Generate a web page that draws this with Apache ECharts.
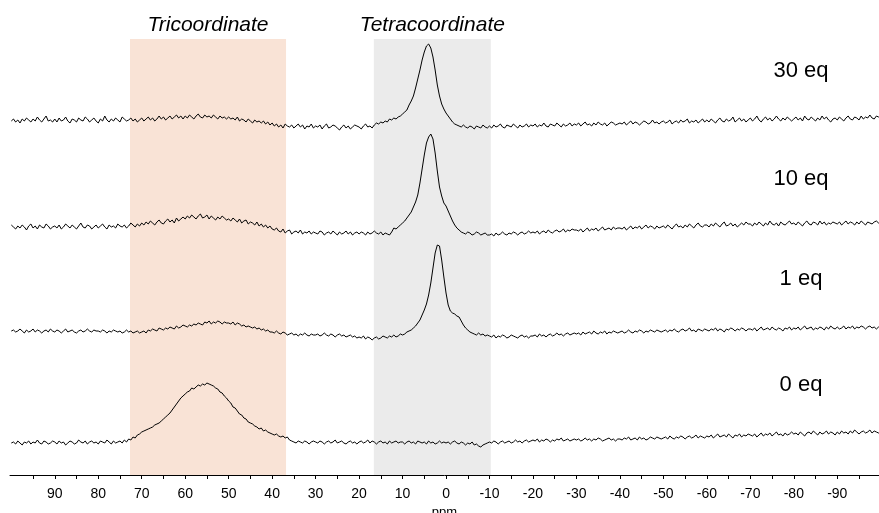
<!DOCTYPE html>
<html>
<head>
<meta charset="utf-8">
<script src="https://cdn.jsdelivr.net/npm/echarts@6/dist/echarts.min.js"></script>
<style>html,body{margin:0;padding:0;background:#fff;overflow:hidden}#c{width:879px;height:513px}</style>
</head>
<body>
<div id="c"></div>
<script>
// Chemical shift grid (ppm), 0.5 ppm steps from 100 to -100
const ppmStart = 100, ppmStep = 0.5;

const labels = ['30 eq', '10 eq', '1 eq', '0 eq'];

// Intensities (arbitrary units), one row = 10 ppm (100 -> -100)
const eq30 = [
 4,6,3,5,2,6,4,7,5,3,6,4,8,5,3,6,9,4,5,3,
 6,3,7,4,5,8,4,2,6,5,3,7,5,4,8,6,3,5,7,4,
 2,6,4,9,5,3,6,4,7,5,3,8,6,4,5,7,4,6,3,5,
 7,4,6,8,5,7,4,6,9,6,8,5,7,9,6,8,10,7,9,6,
 9,7,10,8,6,9,11,8,7,10,8,9,7,10,8,6,9,7,8,6,
 8,6,7,5,8,4,6,5,3,6,4,2,5,3,4,2,4,1,3,0,
 2,-1,1,-2,0,-3,1,-1,-2,0,-3,-1,1,-2,0,-4,-1,-2,1,-3,
 -1,-2,0,-4,-1,1,-3,-2,0,-1,-3,-5,-2,0,-3,-1,-4,-2,0,-1,
 -2,-4,-1,1,-2,-1,-3,0,2,1,3,2,4,3,6,5,7,6,8,9,
 11,13,15,20,24,29,37,46,55,65,73,79,81,77,68,55,40,29,21,16,
 12,9,6,3,1,0,-1,-2,0,-2,-3,-1,-2,-4,-1,-2,-3,0,-2,-3,
 -1,-3,0,-2,-1,1,-2,-3,0,-1,-2,1,-1,-3,0,-2,-1,1,-2,0,
 -1,1,-2,0,-1,2,-1,-2,1,0,-1,2,0,-2,1,-1,0,2,-1,1,
 0,2,-1,1,3,0,1,-1,2,0,3,1,0,2,-1,1,3,2,0,1,
 2,1,3,0,2,4,1,3,2,0,2,4,3,1,2,5,2,3,1,3,
 4,2,3,5,1,3,4,2,5,3,4,6,2,4,3,5,2,4,6,3,
 5,3,6,4,2,5,7,4,3,6,4,5,8,3,5,7,4,6,3,5,
 7,4,6,9,5,3,6,8,5,7,4,6,9,6,4,7,5,8,6,4,
 6,8,5,7,4,9,6,5,8,6,4,7,5,9,6,8,5,3,6,7,
 5,8,6,4,7,9,6,5,8,7,5,9,6,8,7,10,7,6,9,8,
 7
];
const eq10 = [
 6,4,2,5,3,6,4,1,5,7,3,5,2,6,4,3,7,5,2,4,
 5,3,6,2,4,7,5,3,6,4,2,5,8,4,3,6,5,2,4,6,
 3,5,7,4,2,6,4,5,3,7,5,4,6,3,5,8,6,4,7,5,
 8,6,9,7,10,8,6,9,11,8,7,10,12,9,11,8,13,10,12,14,
 12,15,13,16,14,12,15,17,13,14,16,12,15,13,11,14,12,15,13,11,
 12,10,13,11,9,12,8,10,11,7,9,8,6,9,5,7,4,6,3,5,
 2,1,3,0,-1,2,-2,0,1,-3,-1,0,-2,1,-3,-1,-2,0,-3,-1,
 -2,-3,0,-1,-4,-2,-1,-3,0,-2,-4,-1,-3,-2,0,-3,-1,-4,-2,-1,
 -3,-1,-2,-4,-1,-3,-2,0,-2,-3,-1,-4,-2,-3,-4,-1,3,2,4,6,
 8,10,13,16,19,24,29,36,48,62,76,88,94,97,92,78,60,44,35,28,
 25,20,15,10,6,3,1,-1,-2,-3,-1,-2,-4,-3,-1,-2,-4,-3,-2,-4,
 -4,-3,-5,-2,-4,-3,-1,-3,-4,-2,-3,-1,-2,-4,-2,-1,-3,-2,0,-2,
 -1,-2,0,-3,-1,0,-2,1,-1,-2,0,1,-1,0,2,-1,1,0,2,1,
 1,0,2,-1,1,3,0,2,1,3,0,2,4,1,2,3,1,4,2,3,
 3,2,4,1,3,5,2,4,3,5,2,4,6,3,5,4,2,5,3,4,
 5,3,6,4,2,5,7,4,5,3,6,4,7,5,3,6,8,5,4,6,
 6,4,7,5,8,6,4,7,9,5,6,8,5,7,4,6,8,6,9,7,
 7,5,8,6,9,7,5,8,6,10,7,6,8,5,9,7,6,8,10,7,
 8,6,9,7,5,8,10,7,6,9,8,6,10,7,9,6,8,7,9,8,
 7,9,6,8,10,7,9,8,6,9,7,10,8,6,9,8,7,9,10,8,
 8
];
const eq1 = [
 2,3,1,2,4,2,0,3,1,2,4,1,3,2,0,2,3,1,4,2,
 1,3,2,0,2,4,1,2,3,1,0,2,3,1,2,4,2,1,3,2,
 2,1,3,2,0,2,1,3,2,1,2,0,1,3,1,2,0,1,2,0,
 1,2,0,3,2,4,3,2,5,4,3,5,4,6,5,4,7,5,6,8,
 7,6,8,7,9,8,10,9,8,11,10,12,9,11,10,12,11,9,11,10,
 10,9,11,8,10,9,7,8,6,7,6,5,6,4,5,3,4,2,3,1,
 1,0,2,0,-1,1,0,-2,-1,0,-2,-1,-3,-1,-2,0,-2,-3,-1,-2,
 -2,-1,-3,-2,0,-2,-3,-1,-2,-4,-2,-1,-3,-2,-4,-3,-2,-4,-3,-5,
 -4,-5,-3,-6,-4,-5,-7,-5,-4,-6,-5,-3,-4,-5,-3,-4,-2,-4,-3,-1,
 -2,-1,1,2,3,5,7,10,13,18,23,29,38,50,65,80,88,87,73,56,
 40,28,22,20,19,17,16,12,8,5,3,1,0,-1,-2,0,-2,-1,-3,-2,
 -3,-4,-2,-5,-3,-4,-2,-3,-5,-4,-2,-3,-4,-5,-3,-2,-4,-3,-5,-3,
 -3,-2,-4,-1,-3,-2,-4,-2,-1,-3,-2,0,-2,-1,-3,-1,0,-2,-1,0,
 -1,0,-2,1,-1,0,1,-1,2,0,-1,1,0,2,-1,1,0,2,1,0,
 1,2,0,1,3,1,0,2,1,3,2,0,2,1,3,2,1,3,2,1,
 2,3,1,3,2,4,2,1,3,4,2,3,5,2,3,1,4,3,2,4,
 3,2,4,3,5,2,4,3,1,4,3,5,4,2,4,3,5,4,2,4,
 4,3,5,2,4,6,3,4,5,3,6,4,3,5,4,2,5,4,6,3,
 5,4,6,3,5,7,4,5,6,3,5,4,6,5,3,6,4,7,5,4,
 6,4,5,7,4,6,5,7,4,6,5,7,6,4,6,7,5,6,4,6,
 6
];
const eq0 = [
 -2,-1,-3,0,-2,-4,-1,-2,0,-3,-1,-2,1,-2,-3,0,-1,-3,-2,0,
 -1,-3,0,-2,-1,-4,-2,0,-1,-3,-2,1,-1,-2,0,-3,-1,0,-2,-1,
 -3,0,-1,-2,1,-1,-3,0,-2,-1,0,-2,1,-1,2,1,4,3,6,7,
 9,10,11,12,13,14,16,17,18,20,22,24,26,28,31,34,37,40,43,45,
 47,49,50,53,52,54,56,55,57,56,58,57,56,55,53,52,49,48,45,43,
 40,38,34,33,30,27,26,23,22,19,18,17,15,14,12,13,10,11,9,8,
 7,6,7,5,4,5,3,4,1,0,-1,-2,0,-1,-2,0,-1,-3,-1,0,
 -1,-2,0,-1,-3,-1,0,-2,-1,1,-2,-1,0,-2,-3,-1,0,-2,-1,-3,
 -1,0,-2,-1,1,-2,0,-1,-3,-1,0,-2,-1,-3,0,-2,-1,0,-2,-1,
 -1,-3,-1,0,-2,-1,-3,0,-1,-2,-1,-3,0,-2,-1,-3,-2,0,-2,-1,
 -2,-1,-3,-1,0,-2,-3,-1,-2,-4,-2,-3,-1,-4,-3,-5,-6,-4,-3,-2,
 -1,-2,0,-1,-3,-1,0,-2,-1,0,-2,-1,1,-1,0,-2,0,1,-1,0,
 1,0,2,-1,1,0,2,1,-1,1,0,2,1,3,0,1,2,0,1,2,
 1,2,0,1,3,1,2,0,2,1,3,2,0,1,2,3,1,2,0,2,
 2,1,3,2,4,1,2,3,1,4,2,3,1,2,4,3,2,4,3,2,
 3,4,2,5,3,2,4,3,5,4,2,4,5,3,4,6,3,5,4,3,
 5,4,6,3,5,7,4,5,6,4,7,5,3,6,5,7,4,6,5,7,
 6,5,7,4,6,8,5,7,6,8,5,7,9,6,7,5,8,6,7,9,
 7,8,6,9,7,5,8,9,7,10,8,6,9,7,8,10,7,9,8,6,
 9,7,10,8,9,7,10,8,11,9,7,9,10,8,9,11,8,10,9,8,
 9
];

const traces = [eq30, eq10, eq1, eq0];
const stackOffsets = [350, 244, 142, 34];   // vertical stacking of spectra
const xTickLabels = [90, 80, 70, 60, 50, 40, 30, 20, 10, 0, -10, -20, -30, -40, -50, -60, -70, -80, -90];
const xMinorTicks = [95, 90, 85, 80, 75, 70, 65, 60, 55, 50, 45, 40, 35, 30, 25, 20, 15, 10, 5, 0, -5, -10, -15, -20, -25, -30, -35, -40, -45, -50, -55, -60, -65, -70, -75, -80, -85, -90, -95];
const regions = [
  { name: 'Tricoordinate', from: 72.7, to: 36.8, color: '#F9E3D6' },
  { name: 'Tetracoordinate', from: 16.6, to: -10.3, color: '#EBEBEB' }
];
const labelY = [71, 179, 279, 385];

const chart = echarts.init(document.getElementById('c'), null, { renderer: 'canvas', width: 879, height: 513 });

const series = [{
  type: 'line', data: [], z: 1, silent: true,
  markArea: {
    silent: true,
    data: regions.map(r => [
      { xAxis: r.from, itemStyle: { color: r.color }, label: { show: true, position: 'top', distance: 3, formatter: r.name, fontStyle: 'italic', fontSize: 21, fontFamily: 'Liberation Sans, Arial, sans-serif', color: '#000' } },
      { xAxis: r.to }
    ])
  }
}];
traces.forEach((tr, k) => {
  series.push({
    type: 'line',
    name: labels[k],
    z: 3,
    showSymbol: false,
    symbol: 'none',
    silent: true,
    lineStyle: { color: '#000', width: 1 },
    data: tr.map((v, i) => [ppmStart - ppmStep * i, v + stackOffsets[k]])
  });
});

chart.setOption({
  animation: false,
  backgroundColor: '#fff',
  grid: { left: 10, width: 869, top: 39, height: 436, containLabel: false, outerBoundsMode: 'none' },
  xAxis: {
    type: 'value', min: -99.6, max: 100.3, inverse: true,
    name: 'ppm', nameLocation: 'middle', nameGap: 30,
    nameTextStyle: { fontSize: 13, color: '#000', fontFamily: 'Liberation Sans, Arial, sans-serif' },
    axisLine: { lineStyle: { color: '#000', width: 1 } },
    axisTick: { show: true, length: 4, customValues: xMinorTicks, lineStyle: { color: '#000' } },
    axisLabel: { customValues: xTickLabels, fontSize: 14, margin: 12, color: '#000', fontFamily: 'Liberation Sans, Arial, sans-serif' },
    splitLine: { show: false }
  },
  yAxis: { type: 'value', min: 0, max: 436, show: false, splitLine: { show: false } },
  graphic: labels.map((t, k) => ({
    type: 'text', x: 801, y: labelY[k],
    style: { text: t, fontSize: 22, fontFamily: 'Liberation Sans, Arial, sans-serif', fill: '#000', align: 'center', verticalAlign: 'middle' }
  })),
  series: series
});
</script>
</body>
</html>
